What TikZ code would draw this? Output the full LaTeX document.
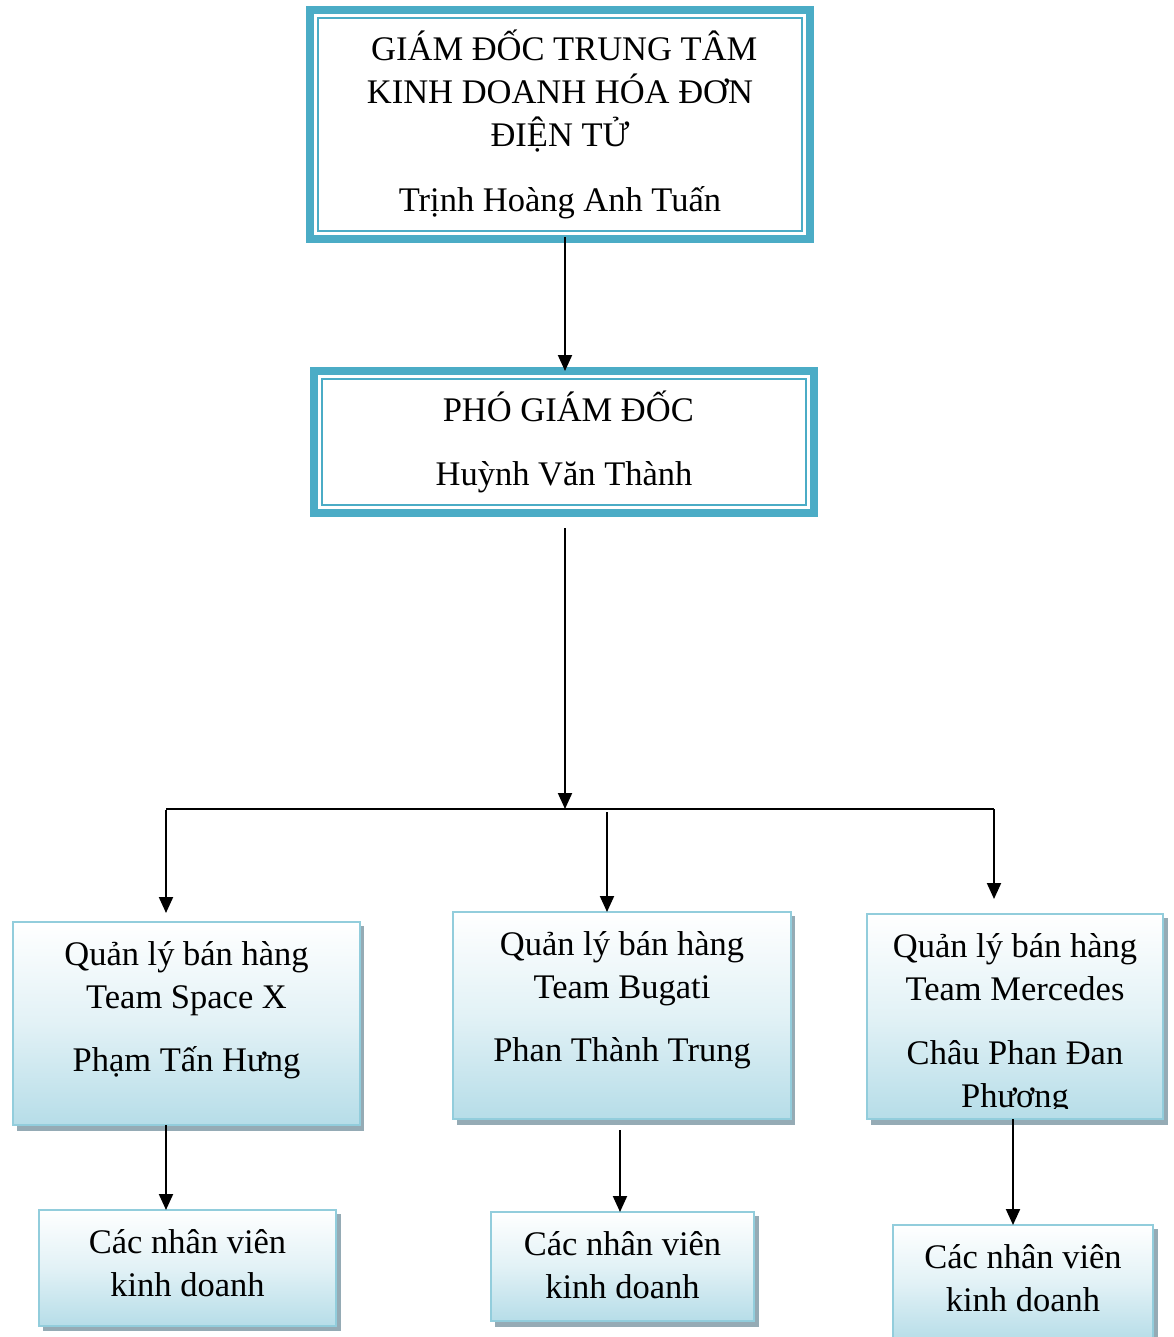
\documentclass[tikz,border=0pt]{standalone}
\usepackage{fontspec}
\setmainfont{Liberation Serif}
\usetikzlibrary{arrows.meta,calc}

\definecolor{teal5}{HTML}{4BACC6}
\definecolor{boxline}{HTML}{92CDDC}
\definecolor{boxfill}{HTML}{B6DDE8}
\definecolor{boxshadow}{HTML}{95ABB5}

\tikzset{
  bigtext/.style={align=center, font=\fontsize{34.5}{43}\selectfont},
  headbox/.style={draw=teal5, line width=8pt, fill=white, outer sep=0pt, inner sep=0pt, bigtext},
  teambox/.style={draw=boxline, line width=2pt, top color=white, bottom color=boxfill,
    middle color=boxfill!40, outer sep=0pt, inner sep=0pt, bigtext},
  teamtext/.style={inner sep=0pt, bigtext},
  shadowrect/.style={fill=boxshadow},
  link/.style={line width=2pt, black},
  arrowlink/.style={link, -{Triangle[width=14pt,length=16pt]}},
}

\begin{document}
\begin{tikzpicture}[x=1pt,y=-1pt]
\useasboundingbox (0,0) rectangle (1173,1337);

% director
\node[headbox, minimum width=500pt, minimum height=229pt] (dir) at (560,124.5)
  {~GIÁM ĐỐC TRUNG TÂM\\KINH DOANH HÓA ĐƠN\\ĐIỆN TỬ\\[22pt]Trịnh Hoàng Anh Tuấn};
\draw[teal5, line width=2pt] ($(dir.north west)+(8,8)$) rectangle ($(dir.south east)+(-8,-8)$);

% deputy director
\node[headbox, minimum width=500pt, minimum height=142pt] (dep) at (564,442)
  {~PHÓ GIÁM ĐỐC\\[21pt]Huỳnh Văn Thành};
\draw[teal5, line width=2pt] ($(dep.north west)+(8,8)$) rectangle ($(dep.south east)+(-8,-8)$);

% shadows of the team and staff boxes
\fill[shadowrect] (17,926) rectangle (364,1131);
\fill[shadowrect] (457,916) rectangle (795,1125);
\fill[shadowrect] (871,918) rectangle (1168,1125);
\fill[shadowrect] (43,1214) rectangle (341,1331);
\fill[shadowrect] (495,1216) rectangle (759,1327);
\fill[shadowrect] (897,1229) rectangle (1158,1337);

% team managers
\node[teambox, minimum width=347pt, minimum height=203pt] (t1) at (186.5,1023.5) {};
\node[teamtext] (t1text) at ($(t1.center)+(0,-13)$)
  {Quản lý bán hàng\\Team Space X\\[20pt]Phạm Tấn Hưng};
\node[teambox, minimum width=338pt, minimum height=207pt] (t2) at (622,1015.5) {};
\node[teamtext] (t2text) at ($(t2.center)+(0,-15)$)
  {Quản lý bán hàng\\Team Bugati\\[20pt]Phan Thành Trung};
\node[teambox, minimum width=296pt, minimum height=205pt] (t3) at (1015,1016.5) {};
\begin{scope}
  \clip (868,915) rectangle (1162,1108);
  \node[teamtext] (t3text) at ($(t3.center)+(0,8)$)
    {Quản lý bán hàng\\Team Mercedes\\[21pt]Châu Phan Đan\\Phương};
\end{scope}

% sales staff
\node[teambox, minimum width=297pt, minimum height=116pt] (s1) at (187.5,1268) {};
\node[teamtext] (s1text) at ($(s1.center)+(0,-5)$) {Các nhân viên\\kinh doanh};
\node[teambox, minimum width=263pt, minimum height=109pt] (s2) at (622.5,1266.5) {};
\node[teamtext] (s2text) at ($(s2.center)+(0,-1.5)$) {Các nhân viên\\kinh doanh};
\node[teambox, minimum width=260pt, minimum height=116pt] (s3) at (1023,1283) {};
\node[teamtext] (s3text) at ($(s3.center)+(0,-5)$) {Các nhân viên\\kinh doanh};

% connectors
\coordinate (bus) at (565,809);
\coordinate (busL) at (166,809);
\coordinate (busR) at (994,809);
\draw[arrowlink] (565,237) -- (dep.north -| 565,0);
\draw[arrowlink] (565,528) -- (bus);
\draw[link] (busL) -- (busR);
\draw[arrowlink] ([yshift=-1pt]busL) -- (166,913);
\draw[arrowlink] (607,812) -- (607,912);
\draw[arrowlink] (busR) -- (994,899);
\draw[arrowlink] (t1.south -| 166,0) -- (s1.north -| 166,0);
\draw[arrowlink] (620,1130) -- (s2.north -| 620,0);
\draw[arrowlink] (t3.south -| 1013,0) -- (s3.north -| 1013,0);
\end{tikzpicture}
\end{document}
